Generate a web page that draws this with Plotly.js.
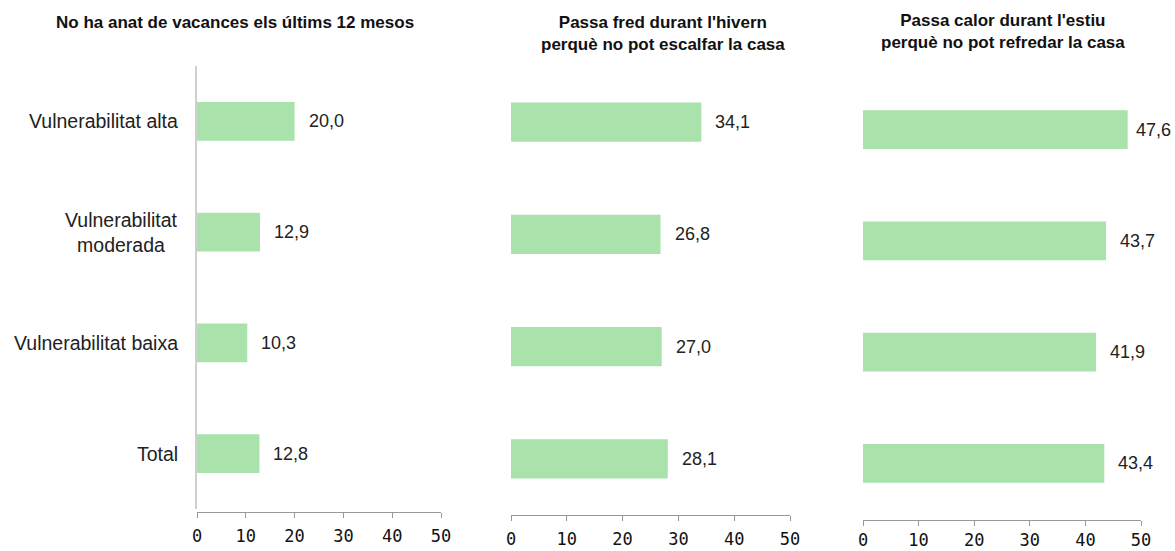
<!DOCTYPE html>
<html><head><meta charset="utf-8">
<script src="https://cdn.plot.ly/plotly-3.0.1.min.js"></script>
<style>html,body{margin:0;padding:0;background:#fff}#chart{width:1175px;height:551px}</style>
</head><body><div id="chart"></div>
<script>
const categories = ['Total', 'Vulnerabilitat baixa', 'Vulnerabilitat<br>moderada', 'Vulnerabilitat alta'];
const vacances = [12.8, 10.3, 12.9, 20.0];
const fred = [28.1, 27.0, 26.8, 34.1];
const calor = [43.4, 41.9, 43.7, 47.6];
const titles = [
  'No ha anat de vacances els últims 12 mesos',
  'Passa fred durant l\'hivern<br>perquè no pot escalfar la casa',
  'Passa calor durant l\'estiu<br>perquè no pot refredar la casa'
];
const tickVals = [0, 10, 20, 30, 40, 50];

const series = [vacances, fred, calor];
const W = 1175, H = 551;
const xDom = [[197/W, 441/W], [511/W, 790/W], [863/W, 1141/W]];
const yPix = [[66, 509], [66, 515], [74, 519]];
const xLinePix = [512, 515, 520];
const standoff = [4, 4, 0];
const titleX = [235, 663, 1003];
const titleTop = [11, 11, 9];
const green = '#a9e2aa';
const fontFam = 'Liberation Sans, Arial, sans-serif';

const data = [];
const layout = {
  width: W, height: H,
  margin: {l: 0, r: 0, t: 0, b: 0},
  paper_bgcolor: '#fff', plot_bgcolor: '#fff',
  showlegend: false,
  font: {family: fontFam, size: 16, color: '#222'},
  annotations: []
};

series.forEach((vals, i) => {
  const xa = i === 0 ? 'x' : 'x' + (i + 1);
  const ya = i === 0 ? 'y' : 'y' + (i + 1);
  const xk = i === 0 ? 'xaxis' : 'xaxis' + (i + 1);
  const yk = i === 0 ? 'yaxis' : 'yaxis' + (i + 1);
  data.push({
    type: 'bar', orientation: 'h', x: vals, y: categories,
    xaxis: xa, yaxis: ya, width: 0.35,
    marker: {color: green}, hoverinfo: 'skip'
  });
  layout[xk] = {
    domain: xDom[i], range: [0, 50], anchor: 'free',
    position: (H - xLinePix[i]) / H,
    tickvals: tickVals, ticktext: tickVals.map(String),
    showgrid: false, zeroline: false,
    showline: true, linecolor: '#999', linewidth: 1,
    ticks: 'outside', ticklen: 5, tickcolor: '#999',
    ticklabelstandoff: standoff[i],
    tickfont: {size: 17, color: '#111', family: 'DejaVu Sans Mono, monospace'},
    fixedrange: true
  };
  layout[yk] = {
    domain: [(H - yPix[i][1]) / H, (H - yPix[i][0]) / H],
    anchor: xa, type: 'category',
    categoryorder: 'array', categoryarray: categories,
    range: [-0.5, 3.5],
    showgrid: false, zeroline: false,
    showline: i === 0, linecolor: '#cfcfcf', linewidth: 2,
    showticklabels: false, ticks: '',
    fixedrange: true
  };
  vals.forEach((v, j) => {
    layout.annotations.push({
      x: v, y: categories[j], xref: xa, yref: ya,
      text: v.toFixed(1).replace('.', ','),
      showarrow: false, xanchor: 'left', yanchor: 'middle',
      xshift: v > 45 ? 6 : 12,
      font: {size: 18, color: '#222', family: fontFam}
    });
  });
  layout.annotations.push({
    x: titleX[i] / W, y: 1 - titleTop[i] / H, xref: 'paper', yref: 'paper',
    xanchor: 'center', yanchor: 'top', showarrow: false,
    text: '<b>' + titles[i] + '</b>', align: 'center',
    font: {size: 17, color: '#111', family: fontFam}
  });
});

categories.forEach((c) => {
  layout.annotations.push({
    x: xDom[0][0], y: c, xref: 'paper', yref: 'y',
    text: c, showarrow: false, xanchor: 'right', yanchor: 'middle',
    align: 'center', xshift: -17,
    font: {size: 19.5, color: '#222', family: fontFam}
  });
});

Plotly.newPlot('chart', data, layout, {displayModeBar: false, staticPlot: true});
</script></body></html>
